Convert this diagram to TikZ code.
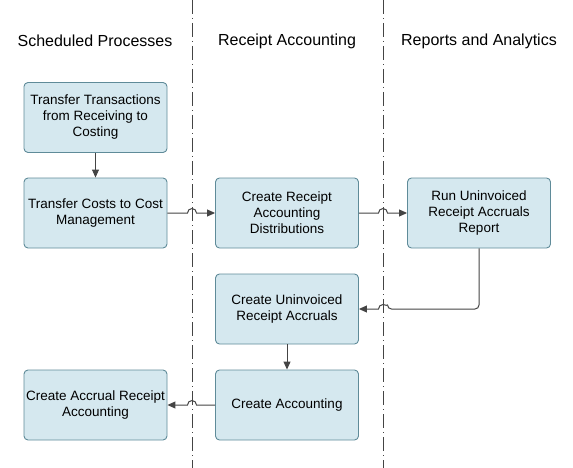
\documentclass[tikz,border=0pt]{standalone}
\usepackage{fontspec}
\setmainfont{Liberation Sans}
\usetikzlibrary{arrows.meta,calc}
\definecolor{boxfill}{HTML}{D5E8EF}
\definecolor{boxline}{HTML}{5F8B99}
\definecolor{conn}{HTML}{444444}
\tikzset{
  proc/.style={draw=boxline, fill=boxfill, line width=0.9pt, rounded corners=4pt,
    minimum width=143pt, minimum height=70pt, align=center,
    font=\fontsize{13.5}{16}\selectfont, inner sep=2pt},
  lanehead/.style={font=\fontsize{16}{18}\selectfont, anchor=center},
  divider/.style={draw=conn, line width=0.8pt, dash pattern=on 14pt off 4pt on 1pt off 4pt},
  flow/.style={draw=conn, line width=1pt, -{Triangle[length=8pt,width=7pt]}},
}
\begin{document}
\begin{tikzpicture}[x=1pt,y=-1pt]
\useasboundingbox (0,0) rectangle (573,468);
% dividers
\coordinate (d1t) at (192,0); \coordinate (d1b) at (192,468);
\coordinate (d2t) at (383,0); \coordinate (d2b) at (383,468);
\draw[divider] (d1t) -- (d1b);
\draw[divider] (d2t) -- (d2b);
% headers
\node[lanehead] (h1) at (95,41) {Scheduled Processes};
\node[lanehead] (h2) at (287,41) {Receipt Accounting};
\node[lanehead] (h3) at (479,41) {Reports and Analytics};
% boxes
\node[proc] (A) at (95.5,117.5) {Transfer Transactions\\from Receiving to\\Costing};
\node[proc] (B) at (95.5,213) {Transfer Costs to Cost\\Management};
\node[proc] (C) at (287,213) {Create Receipt\\Accounting\\Distributions};
\node[proc] (D) at (479,213) {Run Uninvoiced\\Receipt Accruals\\Report};
\node[proc] (E) at (287,309) {Create Uninvoiced\\Receipt Accruals};
\node[proc] (F) at (287,405) {Create Accounting};
\node[proc] (G) at (95.5,405) {Create Accrual Receipt\\Accounting};
% connectors
\draw[flow] (A.south) -- (B.north);
\draw[flow] (E.south) -- (F.north);
\draw[flow] (B.east) -- ($(d1t |- B.east)+(-4.5,0)$) arc[start angle=180,end angle=360,radius=4.5] -- (C.west);
\draw[flow] (C.east) -- ($(d2t |- C.east)+(-4.5,0)$) arc[start angle=180,end angle=360,radius=4.5] -- (D.west);
\coordinate (dturn) at (D.south |- E.east);
\draw[flow, rounded corners=4pt] (D.south) -- (dturn) -- ($(d2t |- E.east)+(4.5,0)$) [sharp corners] arc[start angle=0,end angle=-180,radius=4.5] -- (E.east);
\draw[flow] (F.west) -- ($(d1t |- F.west)+(4.5,0)$) arc[start angle=0,end angle=-180,radius=4.5] -- (G.east);
\end{tikzpicture}
\end{document}
